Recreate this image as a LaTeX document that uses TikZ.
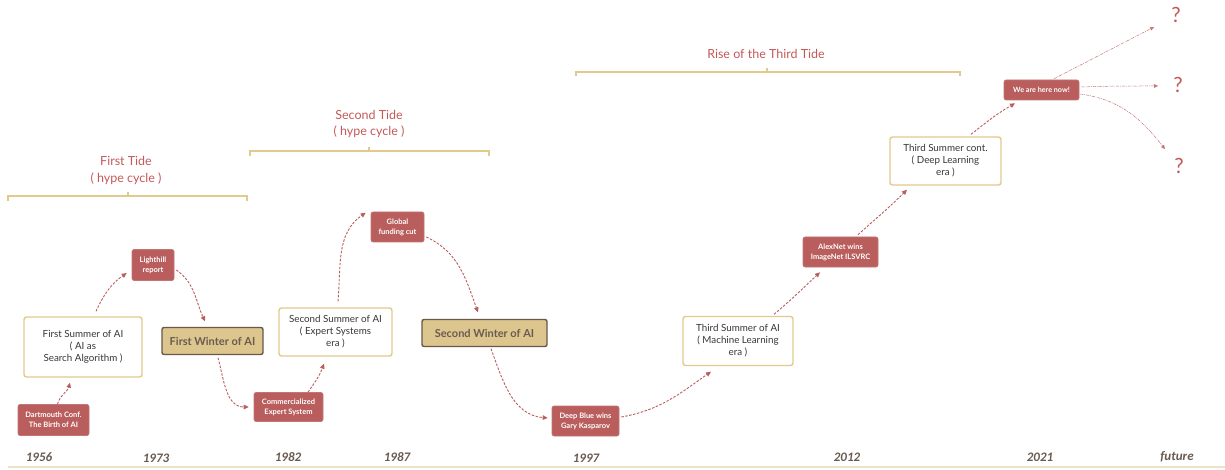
\documentclass[tikz,border=0pt]{standalone}
\usepackage{fontspec}
\setmainfont{Lato}
\newfontfamily\yearfont{Carlito}
\usetikzlibrary{arrows.meta}
\definecolor{redbox}{RGB}{185,93,93}
\definecolor{titlered}{RGB}{196,88,88}
\definecolor{tanline}{RGB}{226,201,140}
\definecolor{winterfill}{RGB}{221,197,142}
\definecolor{winterline}{RGB}{105,88,72}
\definecolor{wintertext}{RGB}{105,92,80}
\definecolor{bodytext}{RGB}{55,55,55}
\definecolor{yeartext}{RGB}{105,90,80}
\definecolor{axisline}{RGB}{236,226,200}
\tikzset{
  event/.style={rectangle, rounded corners=2pt, fill=redbox, draw=redbox!85!white, line width=0.6pt,
    text=white, font=\fontsize{7.5}{10}\selectfont\bfseries, align=center, inner sep=0pt},
  summer/.style={rectangle, rounded corners=2.5pt, fill=white, draw=tanline, line width=1.4pt,
    text=bodytext, font=\fontsize{9.8}{12}\selectfont, align=center, inner sep=0pt},
  winter/.style={rectangle, rounded corners=2pt, fill=winterfill, draw=winterline, line width=1.4pt,
    text=wintertext, font=\fontsize{11}{12}\selectfont\bfseries, inner sep=0pt},
  flow/.style={draw=redbox, line width=0.9pt, dash pattern=on 2.5pt off 1.5pt,
    -{Triangle[length=5pt,width=4.5pt]}},
  fut/.style={draw=redbox!85!white, line width=0.5pt, dash pattern=on 3pt off 1pt on 0.8pt off 1pt,
    -{Triangle[length=4pt,width=3.5pt]}},
  tidetitle/.style={text=titlered, font=\fontsize{12.5}{16.5}\selectfont, align=center, inner sep=0pt},
  bracket/.style={draw=tanline, line width=1.3pt},
  year/.style={text=yeartext, font=\fontsize{13}{14}\selectfont\yearfont\bfseries\itshape, inner sep=0pt},
  qmark/.style={text=titlered, font=\fontsize{21}{22}\selectfont, inner sep=0pt}
}
\begin{document}
\begin{tikzpicture}[x=1pt,y=1pt]
\useasboundingbox (0,0) rectangle (1225,469);

% tide titles and brackets
\node[tidetitle] (t1) at (126,298.5) {First Tide\\( hype cycle )};
\draw[bracket] (8,268) -- (8,273) -- (247,273) -- (247,268);
\draw[bracket] (128,273) -- (128,277);

\node[tidetitle] (t2) at (369,345) {Second Tide\\( hype cycle )};
\draw[bracket] (250,313) -- (250,318) -- (489,318) -- (489,313);
\draw[bracket] (369,318) -- (369,322);

\node[tidetitle] (t3) at (766,415) {Rise of the Third Tide};
\draw[bracket] (576,393) -- (576,397) -- (960,397) -- (960,393);
\draw[bracket] (767,397) -- (767,401);

% nodes
\node[event, minimum width=71pt, minimum height=31pt] (dart) at (53.5,49) {Dartmouth Conf.\\The Birth of AI};
\node[summer, minimum width=118pt, minimum height=60pt] (fs) at (83,122) {First Summer of AI\\( AI as\\Search Algorithm )};
\node[event, minimum width=42pt, minimum height=31pt] (light) at (153,204) {Lighthill\\report};
\node[winter, minimum width=101pt, minimum height=27pt] (fw) at (212.5,128) {First Winter of AI};
\node[event, minimum width=69pt, minimum height=29pt] (comm) at (288.5,62) {Commercialized\\Expert System};
\node[summer, minimum width=113pt, minimum height=48pt] (ss) at (335.5,137) {Second Summer of AI\\( Expert Systems\\era )};
\node[event, minimum width=53pt, minimum height=30pt] (glob) at (397.5,242) {Global\\funding cut};
\node[winter, minimum width=125pt, minimum height=27pt] (sw) at (484.5,136) {Second Winter of AI};
\node[event, minimum width=67pt, minimum height=30pt] (deep) at (585.5,48) {Deep Blue wins\\Gary Kasparov};
\node[summer, minimum width=110pt, minimum height=49pt] (ts) at (738,128) {Third Summer of AI\\( Machine Learning\\era )};
\node[event, minimum width=75pt, minimum height=30pt] (alex) at (840.5,217) {AlexNet wins\\ImageNet ILSVRC};
\node[summer, minimum width=111pt, minimum height=48pt] (tsc) at (945.5,308) {Third Summer cont.\\( Deep Learning\\era )};
\node[event, minimum width=75pt, minimum height=20pt, font=\fontsize{7.2}{8}\selectfont\bfseries] (now) at (1041.5,379) {We are here now!};
\node[qmark] (q1) at (1176,454) {?};
\node[qmark] (q2) at (1178,384) {?};
\node[qmark] (q3) at (1179,303) {?};

% connectors
\draw[flow] ([xshift=4pt]dart.north) to[out=75,in=-105] ([xshift=-13pt,yshift=-5pt]fs.south);
\draw[flow] ([xshift=13pt,yshift=5pt]fs.north) to[out=65,in=-145] ([xshift=-5pt,yshift=-8pt]light.west);
\draw[flow] ([xshift=2pt,yshift=-5pt]light.east) to[out=-35,in=115] ([xshift=-7.5pt,yshift=5.5pt]fw.north);
\draw[flow] ([xshift=5.5pt,yshift=-2.5pt]fw.south) to[out=-75,in=180] ([xshift=-5pt]comm.west);
\draw[flow] ([xshift=19.5pt]comm.north) to[out=55,in=-110] ([xshift=-11.5pt,yshift=-7pt]ss.south);
\draw[flow] ([xshift=2.5pt,yshift=6pt]ss.north) to[out=85,in=-145] ([xshift=-5pt,yshift=-1pt]glob.north west);
\draw[flow] ([xshift=2pt,yshift=-10pt]glob.east) to[out=-25,in=110] ([xshift=-6.5pt,yshift=6.5pt]sw.north);
\draw[flow] ([xshift=6.5pt,yshift=-1.5pt]sw.south) to[out=-70,in=175] ([xshift=-4pt,yshift=3pt]deep.west);
\draw[flow] ([xshift=2pt,yshift=4pt]deep.east) to[out=10,in=-145] ([xshift=-27pt,yshift=-5.5pt]ts.south);
\draw[flow] ([xshift=36pt,yshift=1.5pt]ts.north) to[out=40,in=-137] ([xshift=-20.5pt,yshift=-5pt]alex.south);
\draw[flow] ([xshift=17.5pt,yshift=2pt]alex.north) to[out=42,in=-135] ([xshift=-38.5pt,yshift=-4pt]tsc.south);
\draw[flow] ([xshift=25.5pt,yshift=2pt]tsc.north) to[out=38,in=-150] ([xshift=-26.5pt,yshift=-3pt]now.south);
\draw[fut] ([xshift=12.5pt,yshift=1pt]now.north) -- ([xshift=-17pt,yshift=-12pt]q1.west);
\draw[fut] ([xshift=2pt,yshift=3pt]now.east) to[out=2,in=180] ([xshift=-15pt,yshift=-1pt]q2.west);
\draw[fut] ([xshift=1pt,yshift=-4pt]now.east) to[out=-8,in=128] ([xshift=-14pt,yshift=9pt]q3.north);

% timeline
\draw[axisline, line width=2pt] (8,2) -- (1225,2);
\node[year] (y1) at (39,12) {1956};
\node[year] (y2) at (156,11) {1973};
\node[year] (y3) at (288,12) {1982};
\node[year] (y4) at (397,12) {1987};
\node[year] (y5) at (586,11) {1997};
\node[year] (y6) at (847,12) {2012};
\node[year] (y7) at (1040,12) {2021};
\node[year] (y8) at (1177,12) {future};
\end{tikzpicture}
\end{document}
